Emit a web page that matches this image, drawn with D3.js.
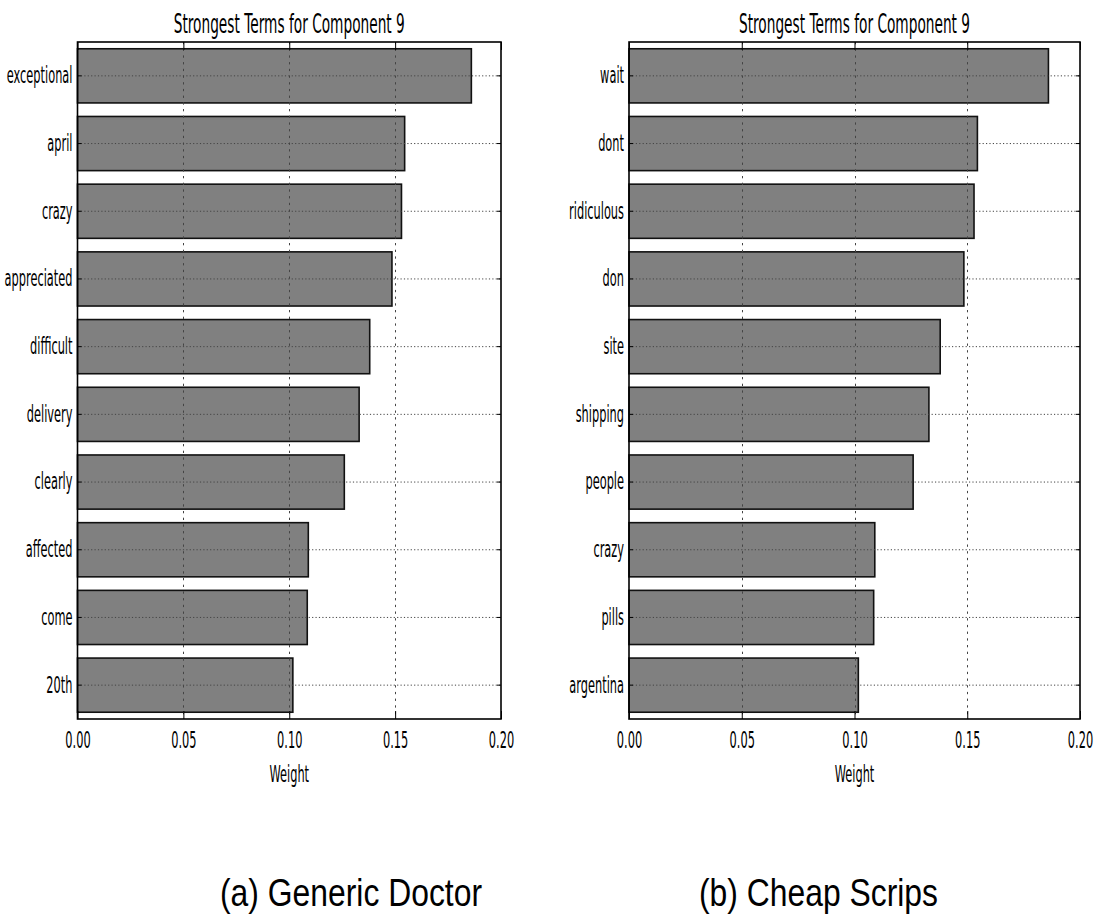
<!DOCTYPE html>
<html>
<head>
<meta charset="utf-8">
<script src="https://cdn.jsdelivr.net/npm/d3@7"></script>
<style>
  html, body { margin: 0; padding: 0; background: #fff; }
  svg { display: block; }
</style>
</head>
<body>
<svg id="chart" width="1102" height="917"></svg>
<script>
// Strongest NMF terms for component 9, one panel per site
const titleText = "Strongest Terms for Component 9";
const axisLabel = "Weight";

const termsA = ["exceptional", "april", "crazy", "appreciated", "difficult",
                "delivery", "clearly", "affected", "come", "20th"];
const weightsA = [0.186, 0.1545, 0.153, 0.1485, 0.138, 0.133, 0.126, 0.109, 0.1085, 0.1017];

const termsB = ["wait", "dont", "ridiculous", "don", "site",
                "shipping", "people", "crazy", "pills", "argentina"];
const weightsB = [0.186, 0.1545, 0.153, 0.1485, 0.138, 0.133, 0.126, 0.109, 0.1085, 0.1017];

const xTicks = [0.00, 0.05, 0.10, 0.15, 0.20];
const captions = ["(a) Generic Doctor", "(b) Cheap Scrips"];

const svg = d3.select("#chart");
svg.append("rect").attr("width", 1102).attr("height", 917).attr("fill", "#fff");

const mplFont = "'DejaVu Sans', sans-serif";
const tickSize = 23;
const sx = 0.495;         // horizontal squeeze of the plot lettering
const titleSize = 27;
const titleSx = 0.508;
const capSx = 0.817;      // horizontal squeeze of the caption lettering

function squeezed(g, x, y, str, size, scaleX, anchor, family) {
  return g.append("text")
    .attr("transform", `translate(${x},${y}) scale(${scaleX},1)`)
    .attr("text-anchor", anchor)
    .attr("font-family", family)
    .attr("font-size", size)
    .attr("fill", "#000")
    .text(str);
}

function panel(terms, weights, box, caption, capX) {
  const g = svg.append("g");
  const x = d3.scaleLinear().domain([0, 0.2]).range([box.x0, box.x1]);
  const y = d3.scaleBand().domain(terms).range([box.y0, box.y1])
    .paddingInner(0.2).paddingOuter(0.1);

  // bars
  g.append("g").selectAll("rect").data(terms).join("rect")
    .attr("x", x(0))
    .attr("y", d => y(d))
    .attr("width", (d, i) => x(weights[i]) - x(0))
    .attr("height", y.bandwidth())
    .attr("fill", "#808080")
    .attr("stroke", "#111")
    .attr("stroke-width", 1.6);

  // dotted grid, drawn above the bars
  const grid = g.append("g");
  grid.selectAll("line.v").data(xTicks.slice(1, -1)).join("line")
    .attr("class", "v")
    .attr("x1", d => Math.round(x(d)) + 0.5).attr("x2", d => Math.round(x(d)) + 0.5)
    .attr("y1", box.y0).attr("y2", box.y1)
    .attr("stroke", "#444").attr("stroke-width", 1)
    .attr("stroke-dasharray", "2.3,4.4");
  grid.selectAll("line.h").data(terms).join("line")
    .attr("class", "h")
    .attr("x1", box.x0).attr("x2", box.x1)
    .attr("y1", d => y(d) + y.bandwidth() / 2).attr("y2", d => y(d) + y.bandwidth() / 2)
    .attr("stroke", "#444").attr("stroke-width", 1)
    .attr("stroke-dasharray", "1.2,2.2");

  // axes with inward ticks on all four sides
  const bottom = g.append("g").attr("transform", `translate(0,${box.y1})`)
    .call(d3.axisBottom(x).tickValues(xTicks).tickFormat(d3.format(".2f"))
      .tickSize(-8).tickPadding(13));
  bottom.selectAll("text")
    .attr("transform", `scale(${sx},1)`)
    .attr("font-family", mplFont).attr("font-size", tickSize).attr("fill", "#000");

  const top = g.append("g").attr("transform", `translate(0,${box.y0})`)
    .call(d3.axisTop(x).tickValues(xTicks).tickFormat("").tickSize(-8));

  const left = g.append("g").attr("transform", `translate(${box.x0},0)`)
    .call(d3.axisLeft(y).tickSize(-4).tickPadding(5));
  left.selectAll("text")
    .attr("x", -5 / sx)
    .attr("transform", `scale(${sx},1)`)
    .attr("font-family", mplFont).attr("font-size", tickSize).attr("fill", "#000");

  const right = g.append("g").attr("transform", `translate(${box.x1},0)`)
    .call(d3.axisRight(y).tickSize(-4).tickFormat(""));

  [bottom, top, left, right].forEach(a => {
    a.select(".domain").remove();
    a.selectAll(".tick line").attr("stroke", "#000").attr("stroke-width", 1);
  });

  // frame
  g.append("rect")
    .attr("x", box.x0).attr("y", box.y0)
    .attr("width", box.x1 - box.x0).attr("height", box.y1 - box.y0)
    .attr("fill", "none").attr("stroke", "#000").attr("stroke-width", 1.6);

  const cx = (box.x0 + box.x1) / 2;
  squeezed(g, cx, 33, titleText, titleSize, titleSx, "middle", mplFont);
  squeezed(g, cx, 782, axisLabel, tickSize, sx, "middle", mplFont);
  squeezed(g, capX, 906, caption, 39, capSx, "middle", "'Liberation Sans', Arial, sans-serif");
}

panel(termsA, weightsA, { x0: 77.5, x1: 501, y0: 42, y1: 719 }, captions[0], 351);
panel(termsB, weightsB, { x0: 629, x1: 1080, y0: 42, y1: 719 }, captions[1], 818.5);
</script>
</body>
</html>
